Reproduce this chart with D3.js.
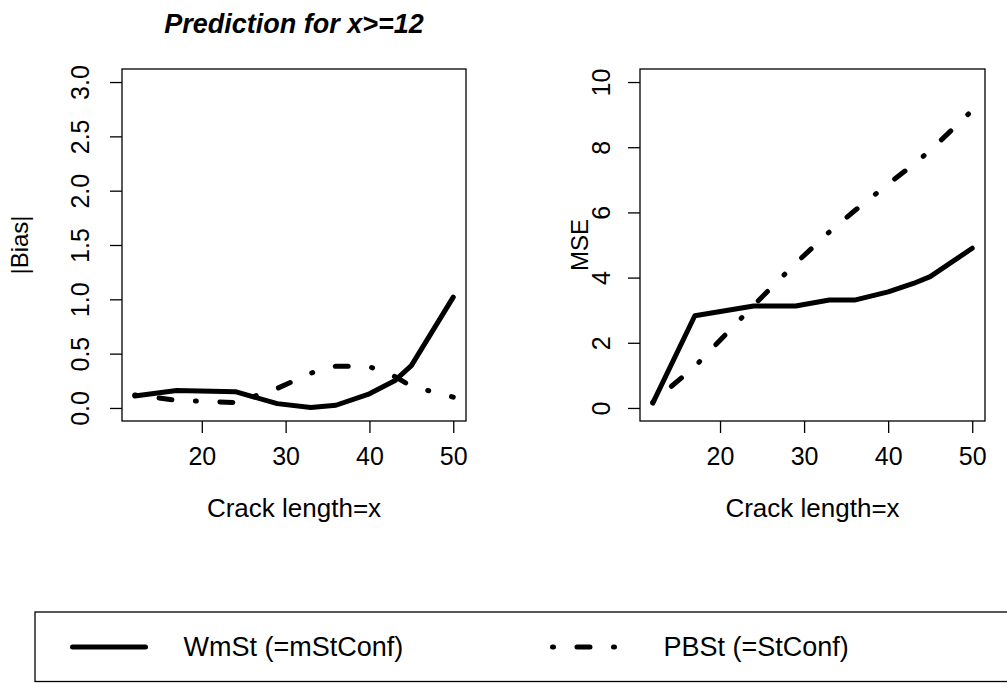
<!DOCTYPE html>
<html>
<head>
<meta charset="utf-8">
<script src="https://cdn.jsdelivr.net/npm/d3@7"></script>
<style>
  body { margin: 0; background: #fff; }
  svg { display: block; }
  text { font-family: "Liberation Sans", Arial, Helvetica, sans-serif; fill: #000; }
</style>
</head>
<body>
<svg id="chart" width="1007" height="684"></svg>
<script>
// Crack lengths at which the prediction was evaluated
const crackLength = [12, 17, 24, 29, 33, 36, 40, 43, 45, 50];

// |Bias| of the two methods
const biasWmSt = [0.11, 0.16, 0.15, 0.04, 0.005, 0.025, 0.13, 0.25, 0.39, 1.02];
const biasPBSt = [0.12, 0.07, 0.05, 0.18, 0.32, 0.385, 0.38, 0.29, 0.20, 0.10];

// MSE of the two methods
const mseWmSt = [0.15, 2.83, 3.13, 3.13, 3.31, 3.31, 3.56, 3.82, 4.03, 4.90];
const msePBSt = [0.18, 1.27, 3.15, 4.44, 5.40, 6.05, 6.87, 7.47, 7.90, 9.13];

// Axis ticks
const xTicks = [20, 30, 40, 50];
const xTickLabels = ["20", "30", "40", "50"];
const biasTicks = [0, 0.5, 1, 1.5, 2, 2.5, 3];
const biasTickLabels = ["0.0", "0.5", "1.0", "1.5", "2.0", "2.5", "3.0"];
const mseTicks = [0, 2, 4, 6, 8, 10];
const mseTickLabels = ["0", "2", "4", "6", "8", "10"];

// Legend entries
const seriesNames = ["WmSt (=mStConf)", "PBSt (=StConf)"];

const LINE_W = 5;
const DOTDASH = "1,23.5,13,23.5";
const dashes = [null, DOTDASH];

const FS_TICK = 25, FS_LAB = 26, FS_YLAB = 24, FS_TITLE = 27, FS_LEG = 27;

const svg = d3.select("#chart");
const plotTop = 69, plotBottom = 421, tickLen = 12;

const panels = [
  { left: 122, right: 466, yDomain: [-0.12, 3.12], yTicks: biasTicks, yLabels: biasTickLabels,
    series: [biasWmSt, biasPBSt], ylab: "|Bias|", ylabX: 28, yTickX: 89 },
  { left: 640, right: 985, yDomain: [-0.4, 10.4], yTicks: mseTicks, yLabels: mseTickLabels,
    series: [mseWmSt, msePBSt], ylab: "MSE", ylabX: 588, yTickX: 610 }
];

panels.forEach(p => {
  const x = d3.scaleLinear().domain([10.48, 51.52]).range([p.left, p.right]);
  const y = d3.scaleLinear().domain(p.yDomain).range([plotBottom, plotTop]);
  const g = svg.append("g");

  // x axis
  const xAxis = d3.axisBottom(x).tickValues(xTicks)
    .tickFormat((d, i) => xTickLabels[i]).tickSize(tickLen).tickSizeOuter(0).tickPadding(0);
  const gx = g.append("g").attr("transform", `translate(0,${plotBottom})`).call(xAxis);
  gx.select(".domain").remove();
  gx.selectAll(".tick line").attr("stroke", "#000").attr("stroke-width", 1.3);
  gx.selectAll(".tick text").attr("font-size", FS_TICK).attr("dy", null).attr("y", 44);

  // y axis
  const yAxis = d3.axisLeft(y).tickValues(p.yTicks)
    .tickFormat((d, i) => p.yLabels[i]).tickSize(tickLen).tickSizeOuter(0);
  const gy = g.append("g").attr("transform", `translate(${p.left},0)`).call(yAxis);
  gy.select(".domain").remove();
  gy.selectAll(".tick line").attr("stroke", "#000").attr("stroke-width", 1.3);
  gy.selectAll(".tick text")
    .attr("font-size", FS_TICK)
    .attr("x", null).attr("dy", null)
    .attr("text-anchor", "middle")
    .attr("transform", `translate(${p.yTickX - p.left},0) rotate(-90)`);

  // plot box
  g.append("rect")
    .attr("x", p.left).attr("y", plotTop)
    .attr("width", p.right - p.left).attr("height", plotBottom - plotTop)
    .attr("fill", "none").attr("stroke", "#000").attr("stroke-width", 1.3);

  // series lines
  const line = d3.line().x((d, i) => x(crackLength[i])).y(d => y(d));
  p.series.forEach((s, k) => {
    g.append("path")
      .datum(s)
      .attr("d", line)
      .attr("fill", "none")
      .attr("stroke", "#000")
      .attr("stroke-width", LINE_W)
      .attr("stroke-linecap", "round")
      .attr("stroke-linejoin", "round")
      .attr("stroke-dasharray", dashes[k]);
  });

  // axis titles
  g.append("text")
    .attr("x", (p.left + p.right) / 2).attr("y", 517)
    .attr("text-anchor", "middle").attr("font-size", FS_LAB)
    .text("Crack length=x");
  g.append("text")
    .attr("text-anchor", "middle").attr("font-size", FS_YLAB)
    .attr("transform", `translate(${p.ylabX},${(plotTop + plotBottom) / 2}) rotate(-90)`)
    .text(p.ylab);
});

// main title over the left panel
svg.append("text")
  .attr("x", (panels[0].left + panels[0].right) / 2).attr("y", 33)
  .attr("text-anchor", "middle")
  .attr("font-size", FS_TITLE).attr("font-weight", "bold").attr("font-style", "italic")
  .text("Prediction for x>=12");

// legend
const legend = svg.append("g");
legend.append("rect")
  .attr("x", 35).attr("y", 612).attr("width", 990).attr("height", 69.5)
  .attr("fill", "none").attr("stroke", "#000").attr("stroke-width", 1.3);
const legendX = [72.5, 552.5];
const legendLen = 73;
seriesNames.forEach((name, k) => {
  legend.append("path")
    .attr("d", d3.line()([[legendX[k], 647], [legendX[k] + legendLen, 647]]))
    .attr("stroke", "#000").attr("stroke-width", LINE_W)
    .attr("stroke-linecap", "round")
    .attr("stroke-dasharray", dashes[k]);
  legend.append("text")
    .attr("x", legendX[k] + 111).attr("y", 656)
    .attr("font-size", FS_LEG)
    .text(name);
});
</script>
</body>
</html>
